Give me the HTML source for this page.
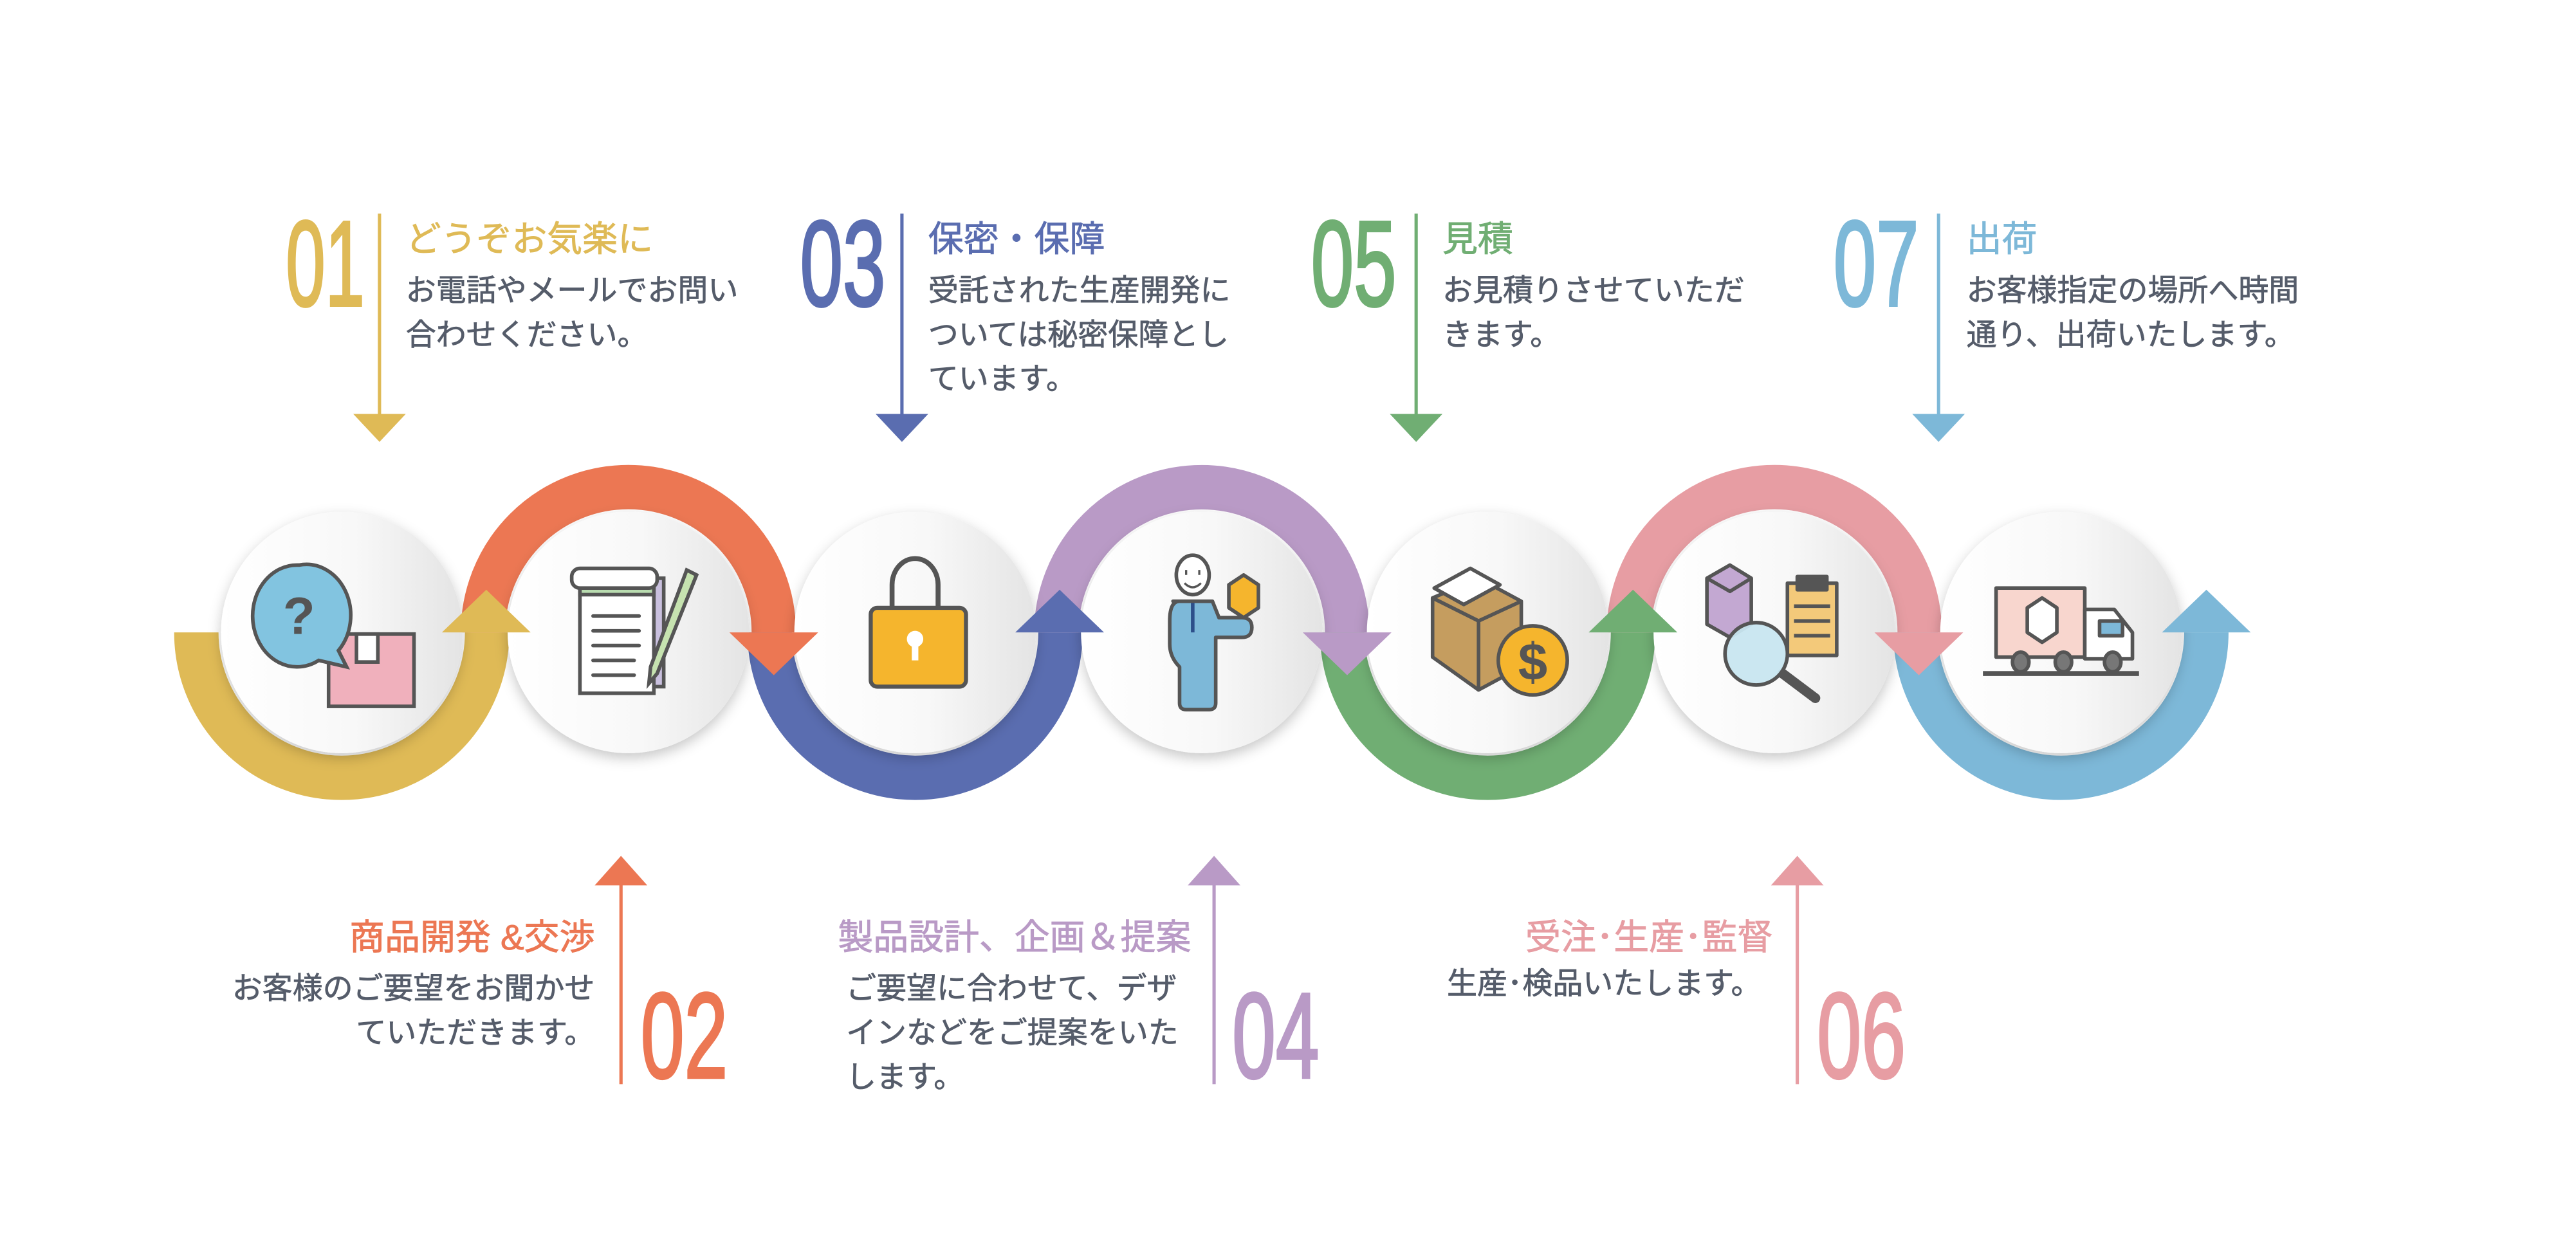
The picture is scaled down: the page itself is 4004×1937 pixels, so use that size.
<!DOCTYPE html>
<html><head><meta charset="utf-8"><style>
html,body{margin:0;padding:0;background:#fff;}
svg{display:block;}
text{font-family:"Liberation Sans","Noto Sans CJK JP",sans-serif;}
</style></head><body>
<svg width="4004" height="1937" viewBox="0 0 1568 758.5" xmlns="http://www.w3.org/2000/svg">
<defs>
<linearGradient id="cg" x1="0" y1="0" x2="1" y2="0">
<stop offset="0" stop-color="#ffffff"/><stop offset="0.55" stop-color="#f8f8f8"/><stop offset="1" stop-color="#e4e4e4"/>
</linearGradient>
<filter id="sh" x="-30%" y="-30%" width="160%" height="160%">
<feDropShadow dx="0" dy="3" stdDeviation="4" flood-color="#000" flood-opacity="0.22"/>
</filter>
</defs>
<rect width="1568" height="758.5" fill="#fff"/>

<g fill="none" stroke-width="27">
<path d="M119.5,385 A88.5,88.5 0 0 0 296.5,385" stroke="#DFBA56"/>
<path d="M294,385 A88.5,88.5 0 0 1 471,385" stroke="#EC7753"/>
<path d="M468.5,385 A88.5,88.5 0 0 0 645.5,385" stroke="#5A6DB0"/>
<path d="M643,385 A88.5,88.5 0 0 1 820,385" stroke="#B99AC6"/>
<path d="M817,385 A88.5,88.5 0 0 0 994,385" stroke="#70AE73"/>
<path d="M991.5,385 A88.5,88.5 0 0 1 1168.5,385" stroke="#E79DA3"/>
<path d="M1166,385 A88.5,88.5 0 0 0 1343,385" stroke="#7DB8D8"/>
</g>

<g fill="url(#cg)" filter="url(#sh)">
<circle cx="208" cy="385" r="73.5"/>
<circle cx="382.5" cy="385" r="73.5"/>
<circle cx="557" cy="385" r="73.5"/>
<circle cx="731.5" cy="385" r="73.5"/>
<circle cx="905.5" cy="385" r="73.5"/>
<circle cx="1080" cy="385" r="73.5"/>
<circle cx="1254.5" cy="385" r="73.5"/>
</g>

<polygon points="269,385 323,385 296,359" fill="#DFBA56"/>
<polygon points="444,385 498,385 471,411" fill="#EC7753"/>
<polygon points="618,385 672,385 645,359" fill="#5A6DB0"/>
<polygon points="793,385 847,385 820,411" fill="#B99AC6"/>
<polygon points="967,385 1021,385 994,359" fill="#70AE73"/>
<polygon points="1141,385 1195,385 1168,411" fill="#E79DA3"/>
<polygon points="1316,385 1370,385 1343,359" fill="#7DB8D8"/>

<!-- icon 1 -->
<g stroke="#555" stroke-width="2.2">
<rect x="200" y="386" width="52" height="44" fill="#F0B0BC"/>
<rect x="217" y="386" width="13" height="17" fill="#fff"/>
<path d="M182,344 a27,31 0 1 0 12,58 l17,4 l-5,-10 a27,31 0 0 0 -24,-52z" fill="#82C4E0"/>
</g>
<text x="182" y="386" font-size="32" font-weight="bold" fill="#555" text-anchor="middle">?</text>

<!-- icon 2 -->
<g stroke="#555" stroke-width="2.2" stroke-linecap="round">
<rect x="392" y="352" width="12" height="66" fill="#C9C0DE"/>
<rect x="353" y="352" width="45" height="70" fill="#fff"/>
<rect x="353" y="352" width="45" height="10" fill="#B9DCB0"/>
<rect x="348" y="346" width="52" height="12" rx="5" fill="#fff"/>
<line x1="361" y1="375" x2="389" y2="375"/>
<line x1="361" y1="384" x2="389" y2="384"/>
<line x1="361" y1="393" x2="389" y2="393"/>
<line x1="361" y1="402" x2="386" y2="402"/>
<line x1="361" y1="411" x2="386" y2="411"/>
<polygon points="418,347 424,350 400,410 395,416 396,406" fill="#C6E3B0"/>
</g>

<!-- icon 3 -->
<g stroke="#555" stroke-width="2.5">
<path d="M543,370 V356 a14,16 0 0 1 28,0 V370" fill="none" stroke-width="3"/>
<rect x="530" y="370" width="58" height="48" rx="4" fill="#F5B52D"/>
<circle cx="557" cy="389" r="5" fill="#fff" stroke="none"/>
<rect x="555" y="390" width="4" height="12" fill="#fff" stroke="none"/>
</g>

<!-- icon 4 -->
<g stroke="#555" stroke-width="2.2" stroke-linejoin="round">
<ellipse cx="726" cy="350" rx="10" ry="12" fill="#fff"/>
<path d="M714,366 h24 l4,10 h14 q6,0 6,6 q0,6 -6,6 h-16 v40 q0,4 -4,4 h-14 q-4,0 -4,-4 v-22 q-6,-6 -6,-14 v-14 q0,-12 6,-12z" fill="#7DB8D8"/>
<line x1="726" y1="367" x2="726" y2="385" stroke="#2d4f8a"/>
<polygon points="757,350 766,356 766,370 757,376 748,370 748,356" fill="#F5B52D"/>
</g>
<path d="M722,347 v3 M730,347 v3 M721,355 q5,5 10,0" stroke="#555" stroke-width="1.3" fill="none"/>

<!-- icon 5 -->
<g stroke="#555" stroke-width="2.2" stroke-linejoin="round">
<polygon points="900,352 926,366 926,406 900,420 872,400 872,364" fill="#C59D5F"/>
<polyline points="872,364 900,378 926,366" fill="none"/>
<line x1="900" y1="378" x2="900" y2="420"/>
<polygon points="895,346 913,356 891,368 873,358" fill="#fff"/>
<circle cx="933" cy="402" r="21" fill="#F5B52D"/>
</g>
<text x="933" y="414" font-size="32" font-weight="bold" fill="#555" text-anchor="middle">$</text>

<!-- icon 6 -->
<g stroke="#555" stroke-width="2.2" stroke-linejoin="round">
<polygon points="1053,344 1066,352 1066,380 1053,388 1039,380 1039,352" fill="#C3A8D2"/>
<polyline points="1039,352 1053,360 1066,352" fill="none"/>
<rect x="1088" y="355" width="30" height="44" fill="#F3C97A"/>
<rect x="1094" y="351" width="18" height="8" fill="#555"/>
<line x1="1092" y1="369" x2="1114" y2="369"/><line x1="1092" y1="378" x2="1114" y2="378"/><line x1="1092" y1="387" x2="1114" y2="387"/>
<line x1="1085" y1="410" x2="1105" y2="425" stroke-width="6" stroke-linecap="round"/>
<circle cx="1069" cy="398" r="19" fill="#C8E6F0" fill-opacity="0.95"/>
</g>

<!-- icon 7 -->
<g stroke="#555" stroke-width="2.2" stroke-linejoin="round">
<rect x="1215" y="358" width="54" height="42" fill="#F8D6CE"/>
<path d="M1269,371 h18 l11,14 v16 h-29 z" fill="#fff"/>
<rect x="1278" y="378" width="14" height="9" fill="#7DB8D8"/>
<polygon points="1243,364 1252,370 1252,385 1243,391 1234,385 1234,370" fill="#fff"/>
<line x1="1207" y1="410" x2="1302" y2="410" stroke-width="3"/>
<ellipse cx="1230" cy="403" rx="5" ry="6" fill="#777"/>
<ellipse cx="1256" cy="403" rx="5" ry="6" fill="#777"/>
<ellipse cx="1286" cy="403" rx="5" ry="6" fill="#777"/>
</g>

<g font-size="74" stroke-width="1.6">
<text x="174" y="186" fill="#DFBA56" stroke="#DFBA56" textLength="48" lengthAdjust="spacingAndGlyphs">01</text>
<text x="487" y="186" fill="#5A6DB0" stroke="#5A6DB0" textLength="52" lengthAdjust="spacingAndGlyphs">03</text>
<text x="798" y="186" fill="#70AE73" stroke="#70AE73" textLength="52" lengthAdjust="spacingAndGlyphs">05</text>
<text x="1116" y="186" fill="#7DB8D8" stroke="#7DB8D8" textLength="52" lengthAdjust="spacingAndGlyphs">07</text>
<text x="390" y="656" fill="#EC7753" stroke="#EC7753" textLength="53" lengthAdjust="spacingAndGlyphs">02</text>
<text x="750" y="656" fill="#B99AC6" stroke="#B99AC6" textLength="53" lengthAdjust="spacingAndGlyphs">04</text>
<text x="1106" y="656" fill="#E79DA3" stroke="#E79DA3" textLength="54" lengthAdjust="spacingAndGlyphs">06</text>
</g>

<g stroke-width="2">
<line x1="231" y1="130" x2="231" y2="255" stroke="#DFBA56"/>
<line x1="549" y1="130" x2="549" y2="255" stroke="#5A6DB0"/>
<line x1="862" y1="130" x2="862" y2="255" stroke="#70AE73"/>
<line x1="1180" y1="130" x2="1180" y2="255" stroke="#7DB8D8"/>
<line x1="378" y1="535" x2="378" y2="660" stroke="#EC7753"/>
<line x1="739" y1="535" x2="739" y2="660" stroke="#B99AC6"/>
<line x1="1094" y1="535" x2="1094" y2="660" stroke="#E79DA3"/>
</g>
<polygon points="215,252 247,252 231,269" fill="#DFBA56"/>
<polygon points="533,252 565,252 549,269" fill="#5A6DB0"/>
<polygon points="846,252 878,252 862,269" fill="#70AE73"/>
<polygon points="1164,252 1196,252 1180,269" fill="#7DB8D8"/>
<polygon points="362,539 394,539 378,521" fill="#EC7753"/>
<polygon points="723,539 755,539 739,521" fill="#B99AC6"/>
<polygon points="1078,539 1110,539 1094,521" fill="#E79DA3"/>

<g font-size="21.5" stroke-width="0.35">
<text x="247" y="153" fill="#DFBA56" stroke="#DFBA56">どうぞお気楽に</text>
<text x="565" y="153" fill="#5A6DB0" stroke="#5A6DB0">保密・保障</text>
<text x="878" y="153" fill="#70AE73" stroke="#70AE73">見積</text>
<text x="1197" y="153" fill="#7DB8D8" stroke="#7DB8D8">出荷</text>
<text x="362" y="578" fill="#EC7753" stroke="#EC7753" text-anchor="end">商品開発 &amp;交渉</text>
<text x="510" y="578" fill="#B99AC6" stroke="#B99AC6">製品設計、企画＆提案</text>
<text x="1079" y="578" fill="#E79DA3" stroke="#E79DA3" text-anchor="end">受注･生産･監督</text>
</g>
<g font-size="18.4" fill="#555C6A" stroke="#555C6A" stroke-width="0.3">
<text x="247" y="183">お電話やメールでお問い</text>
<text x="247" y="210">合わせください。</text>
<text x="565" y="183">受託された生産開発に</text>
<text x="565" y="210">ついては秘密保障とし</text>
<text x="565" y="237">ています。</text>
<text x="878" y="183">お見積りさせていただ</text>
<text x="878" y="210">きます。</text>
<text x="1197" y="183">お客様指定の場所へ時間</text>
<text x="1197" y="210">通り、出荷いたします。</text>
<text x="362" y="608" text-anchor="end">お客様のご要望をお聞かせ</text>
<text x="362" y="635" text-anchor="end">ていただきます。</text>
<text x="515" y="608">ご要望に合わせて、デザ</text>
<text x="515" y="635">インなどをご提案をいた</text>
<text x="515" y="662">します。</text>
<text x="1072" y="605" text-anchor="end">生産･検品いたします。</text>
</g>
</svg>
</body></html>
